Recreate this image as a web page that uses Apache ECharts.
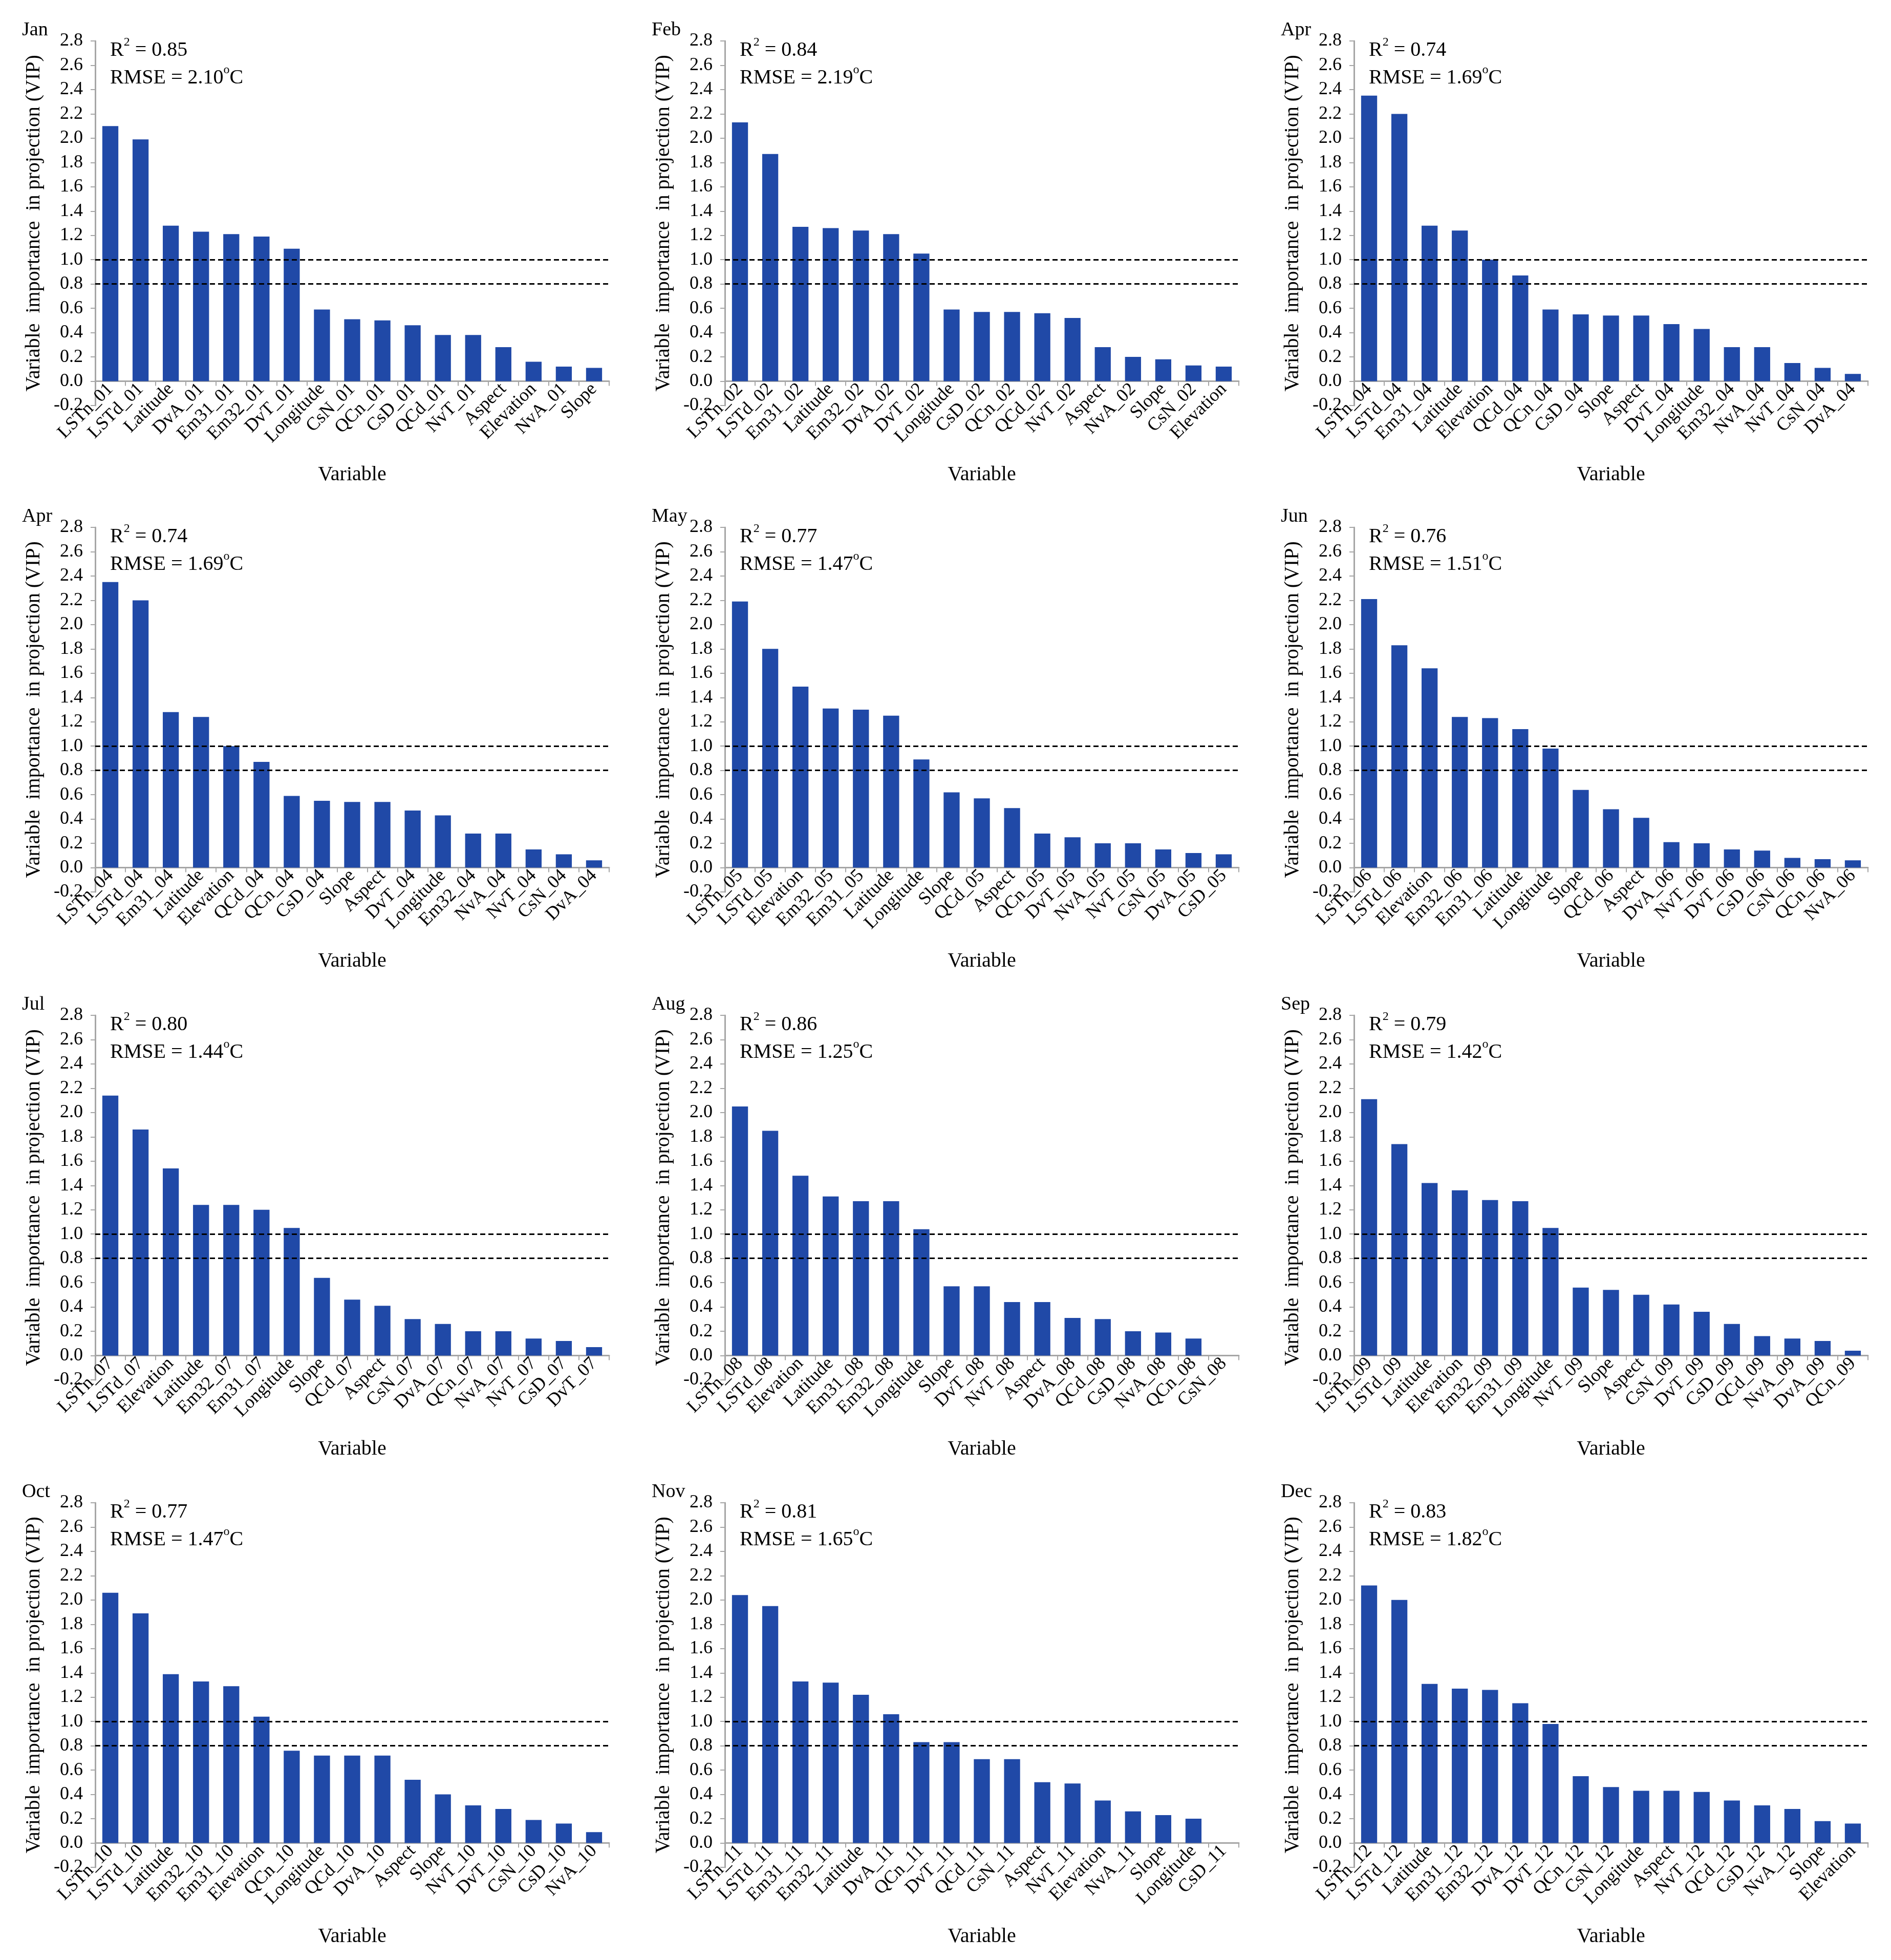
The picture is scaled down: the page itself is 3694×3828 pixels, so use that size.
<!DOCTYPE html>
<html>
<head>
<meta charset="utf-8">
<title>VIP by month</title>
<script src="https://cdn.jsdelivr.net/npm/echarts@6/dist/echarts.min.js"></script>
<style>
  html, body { margin: 0; padding: 0; background: #fff; }
  #chart { width: 3694px; height: 3828px; }
</style>
</head>
<body>
<div id="chart"></div>
<script>
// month of each panel, reading order (the source figure shows April twice)
const months = ['Jan', 'Feb', 'Apr', 'Apr', 'May', 'Jun', 'Jul', 'Aug', 'Sep', 'Oct', 'Nov', 'Dec'];
const r2Values = ['0.85', '0.84', '0.74', '0.74', '0.77', '0.76', '0.80', '0.86', '0.79', '0.77', '0.81', '0.83'];
const rmseValues = ['2.10', '2.19', '1.69', '1.69', '1.47', '1.51', '1.44', '1.25', '1.42', '1.47', '1.65', '1.82'];
const thresholds = [1.0, 0.8];

const catsJan = ['LSTn_01', 'LSTd_01', 'Latitude', 'DvA_01', 'Em31_01', 'Em32_01', 'DvT_01', 'Longitude', 'CsN_01', 'QCn_01', 'CsD_01', 'QCd_01', 'NvT_01', 'Aspect', 'Elevation', 'NvA_01', 'Slope'];
const vipJan = [2.10, 1.99, 1.28, 1.23, 1.21, 1.19, 1.09, 0.59, 0.51, 0.50, 0.46, 0.38, 0.38, 0.28, 0.16, 0.12, 0.11];

const catsFeb = ['LSTn_02', 'LSTd_02', 'Em31_02', 'Latitude', 'Em32_02', 'DvA_02', 'DvT_02', 'Longitude', 'CsD_02', 'QCn_02', 'QCd_02', 'NvT_02', 'Aspect', 'NvA_02', 'Slope', 'CsN_02', 'Elevation'];
const vipFeb = [2.13, 1.87, 1.27, 1.26, 1.24, 1.21, 1.05, 0.59, 0.57, 0.57, 0.56, 0.52, 0.28, 0.20, 0.18, 0.13, 0.12];

const catsApr = ['LSTn_04', 'LSTd_04', 'Em31_04', 'Latitude', 'Elevation', 'QCd_04', 'QCn_04', 'CsD_04', 'Slope', 'Aspect', 'DvT_04', 'Longitude', 'Em32_04', 'NvA_04', 'NvT_04', 'CsN_04', 'DvA_04'];
const vipApr = [2.35, 2.20, 1.28, 1.24, 1.00, 0.87, 0.59, 0.55, 0.54, 0.54, 0.47, 0.43, 0.28, 0.28, 0.15, 0.11, 0.06];

const catsMay = ['LSTn_05', 'LSTd_05', 'Elevation', 'Em32_05', 'Em31_05', 'Latitude', 'Longitude', 'Slope', 'QCd_05', 'Aspect', 'QCn_05', 'DvT_05', 'NvA_05', 'NvT_05', 'CsN_05', 'DvA_05', 'CsD_05'];
const vipMay = [2.19, 1.80, 1.49, 1.31, 1.30, 1.25, 0.89, 0.62, 0.57, 0.49, 0.28, 0.25, 0.20, 0.20, 0.15, 0.12, 0.11];

const catsJun = ['LSTn_06', 'LSTd_06', 'Elevation', 'Em32_06', 'Em31_06', 'Latitude', 'Longitude', 'Slope', 'QCd_06', 'Aspect', 'DvA_06', 'NvT_06', 'DvT_06', 'CsD_06', 'CsN_06', 'QCn_06', 'NvA_06'];
const vipJun = [2.21, 1.83, 1.64, 1.24, 1.23, 1.14, 0.98, 0.64, 0.48, 0.41, 0.21, 0.20, 0.15, 0.14, 0.08, 0.07, 0.06];

const catsJul = ['LSTn_07', 'LSTd_07', 'Elevation', 'Latitude', 'Em32_07', 'Em31_07', 'Longitude', 'Slope', 'QCd_07', 'Aspect', 'CsN_07', 'DvA_07', 'QCn_07', 'NvA_07', 'NvT_07', 'CsD_07', 'DvT_07'];
const vipJul = [2.14, 1.86, 1.54, 1.24, 1.24, 1.20, 1.05, 0.64, 0.46, 0.41, 0.30, 0.26, 0.20, 0.20, 0.14, 0.12, 0.07];

const catsAug = ['LSTn_08', 'LSTd_08', 'Elevation', 'Latitude', 'Em31_08', 'Em32_08', 'Longitude', 'Slope', 'DvT_08', 'NvT_08', 'Aspect', 'DvA_08', 'QCd_08', 'CsD_08', 'NvA_08', 'QCn_08', 'CsN_08'];
const vipAug = [2.05, 1.85, 1.48, 1.31, 1.27, 1.27, 1.04, 0.57, 0.57, 0.44, 0.44, 0.31, 0.30, 0.20, 0.19, 0.14, 0.00];

const catsSep = ['LSTn_09', 'LSTd_09', 'Latitude', 'Elevation', 'Em32_09', 'Em31_09', 'Longitude', 'NvT_09', 'Slope', 'Aspect', 'CsN_09', 'DvT_09', 'CsD_09', 'QCd_09', 'NvA_09', 'DvA_09', 'QCn_09'];
const vipSep = [2.11, 1.74, 1.42, 1.36, 1.28, 1.27, 1.05, 0.56, 0.54, 0.50, 0.42, 0.36, 0.26, 0.16, 0.14, 0.12, 0.04];

const catsOct = ['LSTn_10', 'LSTd_10', 'Latitude', 'Em32_10', 'Em31_10', 'Elevation', 'QCn_10', 'Longitude', 'QCd_10', 'DvA_10', 'Aspect', 'Slope', 'NvT_10', 'DvT_10', 'CsN_10', 'CsD_10', 'NvA_10'];
const vipOct = [2.06, 1.89, 1.39, 1.33, 1.29, 1.04, 0.76, 0.72, 0.72, 0.72, 0.52, 0.40, 0.31, 0.28, 0.19, 0.16, 0.09];

const catsNov = ['LSTn_11', 'LSTd_11', 'Em31_11', 'Em32_11', 'Latitude', 'DvA_11', 'QCn_11', 'DvT_11', 'QCd_11', 'CsN_11', 'Aspect', 'NvT_11', 'Elevation', 'NvA_11', 'Slope', 'Longitude', 'CsD_11'];
const vipNov = [2.04, 1.95, 1.33, 1.32, 1.22, 1.06, 0.83, 0.83, 0.69, 0.69, 0.50, 0.49, 0.35, 0.26, 0.23, 0.20, 0.00];

const catsDec = ['LSTn_12', 'LSTd_12', 'Latitude', 'Em31_12', 'Em32_12', 'DvA_12', 'DvT_12', 'QCn_12', 'CsN_12', 'Longitude', 'Aspect', 'NvT_12', 'QCd_12', 'CsD_12', 'NvA_12', 'Slope', 'Elevation'];
const vipDec = [2.12, 2.00, 1.31, 1.27, 1.26, 1.15, 0.98, 0.55, 0.46, 0.43, 0.43, 0.42, 0.35, 0.31, 0.28, 0.18, 0.16];

const panelCats = [catsJan, catsFeb, catsApr, catsApr, catsMay, catsJun, catsJul, catsAug, catsSep, catsOct, catsNov, catsDec];
const panelVip = [vipJan, vipFeb, vipApr, vipApr, vipMay, vipJun, vipJul, vipAug, vipSep, vipOct, vipNov, vipDec];

// layout of the 3 x 4 panels (px)
const colLeft = [186, 1416, 2645];
const rowTop = [80, 1030, 1983, 2935];
const plotW = 1004;
const plotH = 712;          // value range -0.2 .. 2.8
const stepH = plotH / 15;   // height of one 0.2 step

const FONT = 'Liberation Serif';
const BAR = '#2049a7';
const AXIS = '#a6a6a6';

const grids = [], xAxes = [], yAxes = [], series = [], titles = [];

months.forEach((m, i) => {
  const left = colLeft[i % 3];
  const top = rowTop[Math.floor(i / 3)];

  grids.push({ left: left, top: top, width: plotW, height: plotH, containLabel: false });

  // category axis sits on the 0.0 line, labels hang below it over the -0.2 tick
  xAxes.push({
    type: 'category',
    gridIndex: i,
    data: panelCats[i],
    offset: -stepH,
    axisLine: { onZero: false, lineStyle: { color: AXIS, width: 3 } },
    axisTick: { show: true, length: 9, lineStyle: { color: AXIS, width: 2 } },
    axisLabel: { interval: 0, rotate: 45, fontFamily: FONT, fontSize: 36, color: '#000', margin: 10 },
    splitLine: { show: false },
    name: 'Variable',
    nameLocation: 'middle',
    nameGap: 163,
    nameTextStyle: { fontFamily: FONT, fontSize: 40, color: '#000' }
  });

  yAxes.push({
    type: 'value',
    gridIndex: i,
    min: -0.2,
    max: 2.8,
    interval: 0.2,
    axisLine: { show: true, lineStyle: { color: AXIS, width: 3 } },
    axisTick: { show: true, length: 9, lineStyle: { color: AXIS, width: 2 } },
    axisLabel: {
      fontFamily: FONT, fontSize: 36, color: '#000', margin: 24,
      formatter: (v) => (Math.abs(v) < 1e-9 ? 0 : v).toFixed(1)
    },
    splitLine: { show: false },
    name: 'Variable  importance  in projection (VIP)',
    nameLocation: 'middle',
    nameRotate: 90,
    nameGap: 100,
    nameTextStyle: { fontFamily: FONT, fontSize: 40, color: '#000' }
  });

  series.push({
    type: 'bar',
    xAxisIndex: i,
    yAxisIndex: i,
    data: panelVip[i],
    barWidth: '53%',
    itemStyle: { color: BAR },
    markLine: {
      silent: true,
      symbol: ['none', 'none'],
      label: { show: false },
      lineStyle: { type: [10, 6], color: '#000', width: 3 },
      data: thresholds.map((t) => ({ yAxis: t }))
    }
  });

  // month tag, top left of the panel
  titles.push({
    text: m,
    left: left - 143,
    top: top - 40,
    padding: 0,
    textStyle: { fontFamily: FONT, fontSize: 38, fontWeight: 'normal', color: '#000' }
  });

  // fit statistics inside the plot
  titles.push({
    text: 'R{sup|2} = ' + r2Values[i] + '\nRMSE = ' + rmseValues[i] + '{sup|o}C',
    left: left + 29,
    top: top - 9,
    padding: 0,
    textStyle: {
      fontFamily: FONT, fontSize: 40, fontWeight: 'normal', color: '#000', lineHeight: 54,
      rich: { sup: { fontFamily: FONT, fontSize: 24, lineHeight: 24, verticalAlign: 'top', color: '#000' } }
    }
  });
});

const chart = echarts.init(document.getElementById('chart'), null, { renderer: 'canvas' });
chart.setOption({
  backgroundColor: '#fff',
  animation: false,
  title: titles,
  grid: grids,
  xAxis: xAxes,
  yAxis: yAxes,
  series: series
});
window.addEventListener('resize', () => chart.resize());
</script>
</body>
</html>
